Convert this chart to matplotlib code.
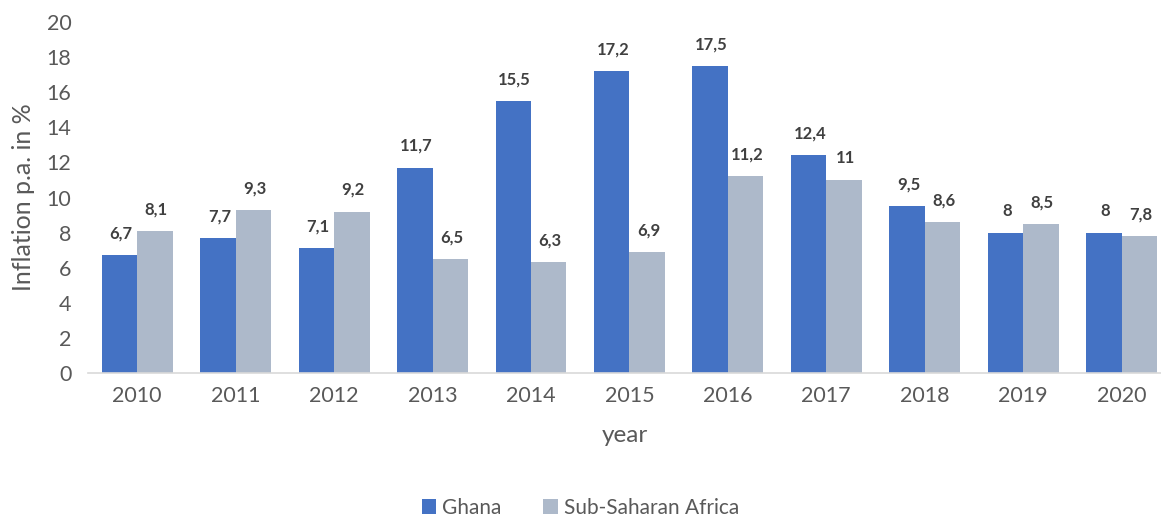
import numpy as np
import matplotlib
matplotlib.use("Agg")
import matplotlib.pyplot as plt

plt.rcParams["font.family"] = ["Lato", "DejaVu Sans"]

years = ["2010", "2011", "2012", "2013", "2014", "2015", "2016", "2017", "2018", "2019", "2020"]
ghana = [6.7, 7.7, 7.1, 11.7, 15.5, 17.2, 17.5, 12.4, 9.5, 8, 8]
ssa = [8.1, 9.3, 9.2, 6.5, 6.3, 6.9, 11.2, 11, 8.6, 8.5, 7.8]
y_ticks = [0, 2, 4, 6, 8, 10, 12, 14, 16, 18, 20]

BLUE, GREY = "#4472C4", "#ADB9CA"
TXT = "#595959"


def fmt(v):
    return f"{v:g}".replace(".", ",")


fig = plt.figure(figsize=(11.61, 5.22), dpi=100)
ax = fig.add_axes([88 / 1161, 1 - 373 / 522, (1161 - 88) / 1161, (373 - 22) / 522])

x = np.arange(len(years))
w = 0.36
b1 = ax.bar(x - w / 2, ghana, w, color=BLUE, label="Ghana")
b2 = ax.bar(x + w / 2, ssa, w, color=GREY, label="Sub-Saharan Africa")
for bars, vals in ((b1, ghana), (b2, ssa)):
    for r, v in zip(bars, vals):
        ax.annotate(fmt(v), (r.get_x() + r.get_width() / 2, v), xytext=(1, 12),
                    textcoords="offset points", ha="center", va="baseline",
                    fontsize=12, fontweight="bold", color="#404040")

ax.set_xlim(-0.5, 10.4)
ax.set_ylim(0, 20)
ax.set_yticks(y_ticks)
ax.set_xticks(x)
ax.set_xticklabels(years)
ax.tick_params(length=0, labelsize=15.5, colors=TXT, pad=9)
ax.tick_params(axis="y", pad=12)
for s in ("top", "right", "left"):
    ax.spines[s].set_visible(False)
ax.spines["bottom"].set_color("#D9D9D9")
ax.spines["bottom"].set_linewidth(1.2)

ax.set_xlabel("year", fontsize=17.5, color=TXT, labelpad=14)
ax.set_ylabel("Inflation p.a. in %", fontsize=18, color=TXT, labelpad=8)

fig.legend(handles=[b1, b2], loc="lower center", bbox_to_anchor=(0.5, 0.0), ncol=2,
           frameon=False, fontsize=15, labelcolor=TXT, handlelength=0.7, handleheight=0.7,
           handletextpad=0.3, columnspacing=2.0, borderpad=0.1, borderaxespad=0.1)

fig.savefig("out.png")
